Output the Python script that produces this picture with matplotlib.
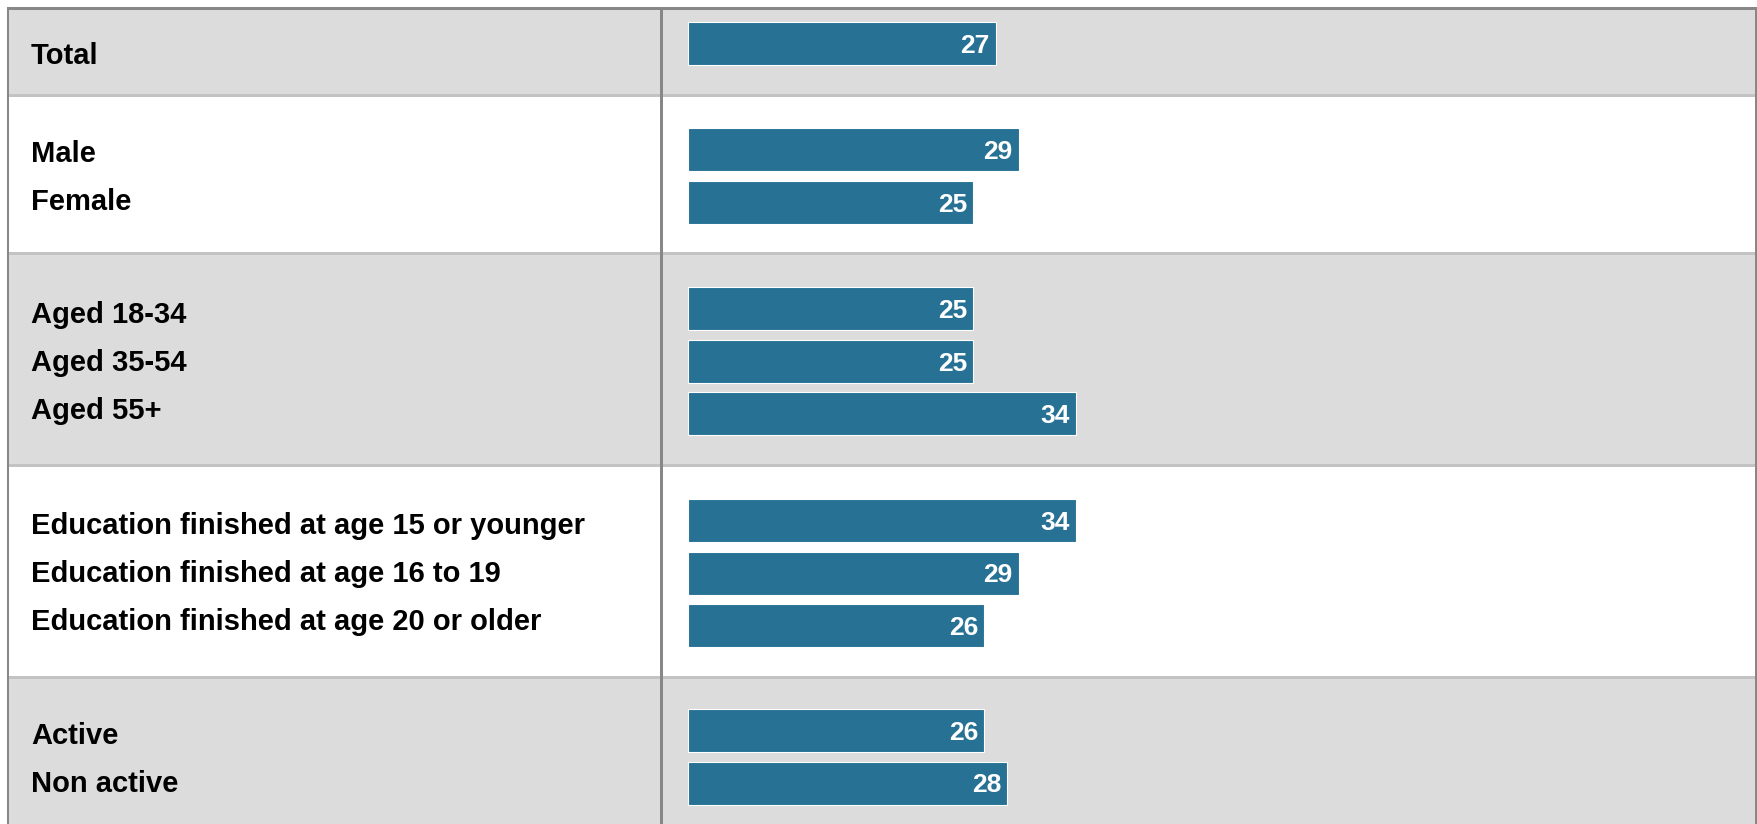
import matplotlib
matplotlib.use("Agg")
import matplotlib.pyplot as plt

# ---- data ----
groups = [
    ["Total"],
    ["Male", "Female"],
    ["Aged 18-34", "Aged 35-54", "Aged 55+"],
    ["Education finished at age 15 or younger",
     "Education finished at age 16 to 19",
     "Education finished at age 20 or older"],
    ["Active", "Non active"],
]
values = [
    [27],
    [29, 25],
    [25, 25, 34],
    [34, 29, 26],
    [26, 28],
]

# ---- layout (pixels) ----
W, H = 1757, 824
group_tops = [9, 95, 253, 465, 677]
group_bots = [95, 253, 465, 677, 835]
bar_pad = [13, 33, 34, 34, 32]
bar_h = 43
bar_step = 52.5
label_step = 48
bar_color = "#267194"
gray = "#dcdcdc"
border = "#878787"
sep = "#c3c3c3"
x_div = 660.5
x0_px = 688
px_per_unit = 11.4

fig = plt.figure(figsize=(W / 100, H / 100), dpi=100)
bg = fig.add_axes([0, 0, 1, 1])
bg.set_xlim(0, W)
bg.set_ylim(H, 0)
bg.axis("off")

lw = lambda px: px * 0.72

for gi, (t, b) in enumerate(zip(group_tops, group_bots)):
    col = gray if gi % 2 == 0 else "white"
    bg.add_patch(plt.Rectangle((7, t), 1749, b - t, color=col, lw=0, zorder=0))
    if gi > 0:
        bg.plot([7, 1756], [t, t], color=sep, lw=lw(3), zorder=1,
                solid_capstyle="butt")
    mid = (t + b) / 2
    n = len(groups[gi])
    for i, lab in enumerate(groups[gi]):
        y = mid + (i - (n - 1) / 2) * label_step + 1
        bg.text(31, y + 10.5, lab, ha="left", va="baseline", fontsize=21,
                fontweight="bold", family="Liberation Sans", color="black",
                zorder=3)

bg.plot([7, 1756], [8, 8], color=border, lw=lw(3), zorder=2, solid_capstyle="butt")
bg.plot([7.5, 7.5], [7, H], color=border, lw=lw(2), zorder=2, solid_capstyle="butt")
bg.plot([1755.5, 1755.5], [7, H], color=border, lw=lw(2), zorder=2, solid_capstyle="butt")
bg.plot([x_div, x_div], [7, H], color=border, lw=lw(3), zorder=2, solid_capstyle="butt")

# ---- bar axes ----
left_px, right_px = 662, 1754
ax = fig.add_axes([left_px / W, 0, (right_px - left_px) / W, 1])
ax.set_xlim(-(x0_px - left_px) / px_per_unit, (right_px - x0_px) / px_per_unit)
ax.set_ylim(H, 0)
ax.axis("off")
ax.patch.set_alpha(0)

for gi, vals in enumerate(values):
    for i, v in enumerate(vals):
        c = group_tops[gi] + bar_pad[gi] + bar_h / 2 + i * bar_step
        ax.barh(c, v, height=bar_h, left=0, color=bar_color,
                edgecolor="white", linewidth=0.8, zorder=3)
        ax.text(v - 0.53, c + 9.5, str(v), ha="right", va="baseline",
                color="white", fontsize=19, fontweight="bold",
                family="Liberation Sans", zorder=4)

fig.savefig("out.png", dpi=100)
